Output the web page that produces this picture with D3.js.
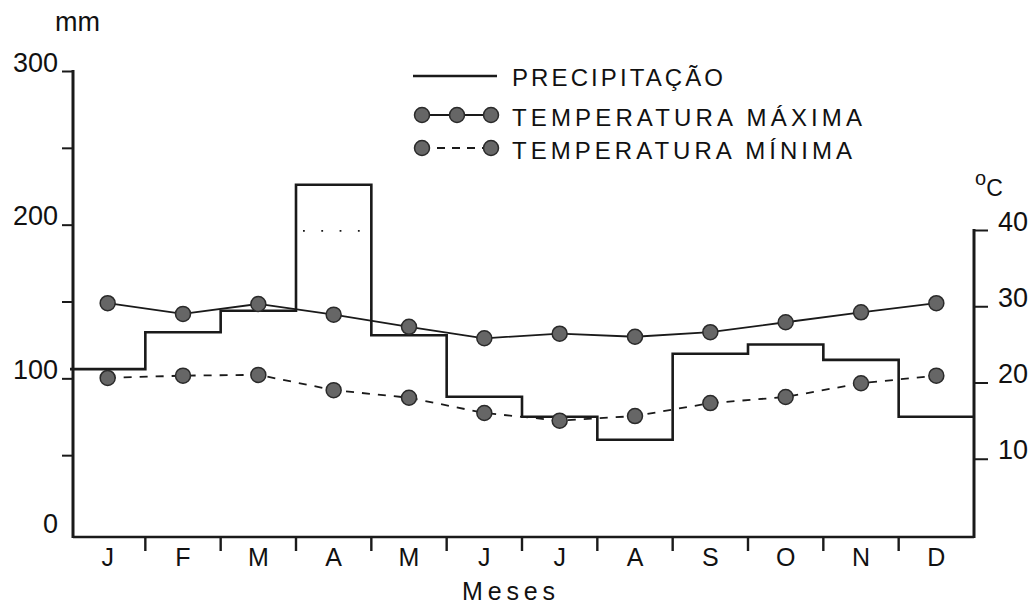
<!DOCTYPE html>
<html>
<head>
<meta charset="utf-8">
<script src="https://cdn.jsdelivr.net/npm/d3@7"></script>
<style>
  body { margin: 0; background: #fff; }
  svg { display: block; }
  text { font-family: "Liberation Sans", Arial, Helvetica, sans-serif; fill: #111; }
</style>
</head>
<body>
<svg id="chart" width="1036" height="608"></svg>
<script>
// ---------- data ----------
const months = ["J", "F", "M", "A", "M", "J", "J", "A", "S", "O", "N", "D"];
const precipitation = [106, 130, 144, 226, 128, 88, 75, 60, 116, 122, 112, 75];   // mm
const tempMax = [30.4, 29.0, 30.3, 28.9, 27.3, 25.8, 26.4, 26.0, 26.6, 27.9, 29.2, 30.4]; // °C
const tempMin = [20.6, 20.9, 21.0, 19.0, 18.0, 16.0, 15.0, 15.6, 17.3, 18.1, 19.9, 20.9]; // °C
const aprilDotted = 196; // faint dotted mark inside the April bar (mm)
const precipTickValues = [0, 50, 100, 150, 200, 250, 300];
const precipTickLabels = [0, 100, 200, 300];
const tempTickValues = [10, 20, 30, 40];
const legendLabels = ["PRECIPITAÇÃO", "TEMPERATURA MÁXIMA", "TEMPERATURA MÍNIMA"];
const xTitle = "Meses";
const leftUnit = "mm";

// ---------- layout ----------
const svg = d3.select("#chart");
const left = 73, right = 974, bottom = 537;
const ink = "#1a1a1a";

const x = d3.scaleBand().domain(d3.range(months.length)).range([70, right]);
const yL = d3.scaleLinear().domain([0, 300]).range([532, 71]);
const yR = d3.scaleLinear().domain([0, 40]).range([535, 230]);

// ---------- precipitation step line ----------
const stepPts = precipitation.map((v, i) => [x(i), yL(v)]);
stepPts.push([right, yL(precipitation[precipitation.length - 1])]);
svg.append("path")
  .attr("d", d3.line().curve(d3.curveStepAfter)(stepPts))
  .attr("fill", "none").attr("stroke", ink).attr("stroke-width", 2.6)
  .attr("stroke-linejoin", "miter");

// dotted mark inside April
svg.append("line")
  .attr("x1", x(3) + 7).attr("x2", x(3) + 64)
  .attr("y1", yL(aprilDotted)).attr("y2", yL(aprilDotted))
  .attr("stroke", ink).attr("stroke-width", 1.8)
  .attr("stroke-dasharray", "1.8,16.5");

// ---------- temperature lines ----------
const cx = i => x(i) + x.bandwidth() / 2;
const lineMax = d3.line().x((d, i) => cx(i)).y(d => yR(d));
svg.append("path").attr("d", lineMax(tempMax))
  .attr("fill", "none").attr("stroke", ink).attr("stroke-width", 1.8);
svg.append("path").attr("d", lineMax(tempMin))
  .attr("fill", "none").attr("stroke", ink).attr("stroke-width", 1.8)
  .attr("stroke-dasharray", "8,8");

function dot(g, px, py) {
  g.append("circle").attr("cx", px).attr("cy", py).attr("r", 7.5)
    .attr("fill", "#666").attr("stroke", "#2a2a2a").attr("stroke-width", 1.5);
}
const dots = svg.append("g");
tempMax.forEach((d, i) => dot(dots, cx(i), yR(d)));
tempMin.forEach((d, i) => dot(dots, cx(i), yR(d)));

// ---------- left axis ----------
svg.append("line").attr("x1", left).attr("x2", left)
  .attr("y1", yL(300) - 1).attr("y2", bottom + 1)
  .attr("stroke", ink).attr("stroke-width", 3);
const gL = svg.append("g").attr("transform", `translate(${left},0)`)
  .call(d3.axisLeft(yL).tickValues(precipTickValues).tickSize(11).tickPadding(4)
    .tickFormat(d => precipTickLabels.includes(d) ? d : ""));
gL.select(".domain").remove();
gL.selectAll(".tick line").attr("stroke", ink).attr("stroke-width", 2)
  .filter(d => d === 0).remove();
gL.selectAll(".tick text").attr("dy", 0).attr("font-size", 27)
  .attr("font-family", "Liberation Sans, Arial, sans-serif").attr("fill", "#111");

svg.append("text").attr("x", 55).attr("y", 31).attr("font-size", 27).text(leftUnit);

// ---------- right axis ----------
svg.append("line").attr("x1", right).attr("x2", right)
  .attr("y1", yR(40) - 1).attr("y2", bottom + 1)
  .attr("stroke", ink).attr("stroke-width", 3);
const gR = svg.append("g").attr("transform", `translate(${right},0)`)
  .call(d3.axisRight(yR).tickValues(tempTickValues).tickSize(14).tickPadding(10));
gR.select(".domain").remove();
gR.selectAll(".tick line").attr("stroke", ink).attr("stroke-width", 2);
gR.selectAll(".tick text").attr("dy", 0).attr("font-size", 27)
  .attr("font-family", "Liberation Sans, Arial, sans-serif").attr("fill", "#111");

const unitR = svg.append("text").attr("x", 975).attr("y", 196);
unitR.append("tspan").attr("font-size", 20).attr("dy", -11).text("o");
unitR.append("tspan").attr("font-size", 23).attr("dy", 11).text("C");

// ---------- bottom axis ----------
svg.append("line").attr("x1", left).attr("x2", right)
  .attr("y1", bottom).attr("y2", bottom)
  .attr("stroke", ink).attr("stroke-width", 2.6);
svg.append("g").selectAll("line").data(d3.range(1, months.length)).join("line")
  .attr("x1", d => x(d)).attr("x2", d => x(d))
  .attr("y1", bottom).attr("y2", bottom + 14)
  .attr("stroke", ink).attr("stroke-width", 2.4);
svg.append("g").selectAll("text").data(months).join("text")
  .attr("x", (d, i) => cx(i)).attr("y", 566)
  .attr("text-anchor", "middle").attr("font-size", 25).text(d => d);

svg.append("text").attr("x", 462).attr("y", 600)
  .attr("font-family", "DejaVu Sans Mono, monospace").attr("font-size", 25)
  .attr("textLength", 93).attr("lengthAdjust", "spacing").text(xTitle);

// ---------- legend ----------
const lg = svg.append("g");
const legendY = [76, 115, 148];
const legendBase = [86, 126, 159];
const legendLen = [211, 350, 340];
lg.append("line").attr("x1", 413).attr("x2", 497).attr("y1", legendY[0]).attr("y2", legendY[0])
  .attr("stroke", ink).attr("stroke-width", 2.6);
lg.append("line").attr("x1", 422).attr("x2", 491).attr("y1", legendY[1]).attr("y2", legendY[1])
  .attr("stroke", ink).attr("stroke-width", 1.8);
[422, 457, 491].forEach(px => dot(lg, px, legendY[1]));
lg.append("line").attr("x1", 422).attr("x2", 491).attr("y1", legendY[2]).attr("y2", legendY[2])
  .attr("stroke", ink).attr("stroke-width", 1.8).attr("stroke-dasharray", "8,7");
[422, 491].forEach(px => dot(lg, px, legendY[2]));
lg.selectAll("text.lab").data(legendLabels).join("text").attr("class", "lab")
  .attr("x", 512).attr("y", (d, i) => legendBase[i])
  .attr("font-size", 24)
  .attr("textLength", (d, i) => legendLen[i]).attr("lengthAdjust", "spacing")
  .text(d => d);
</script>
</body>
</html>
